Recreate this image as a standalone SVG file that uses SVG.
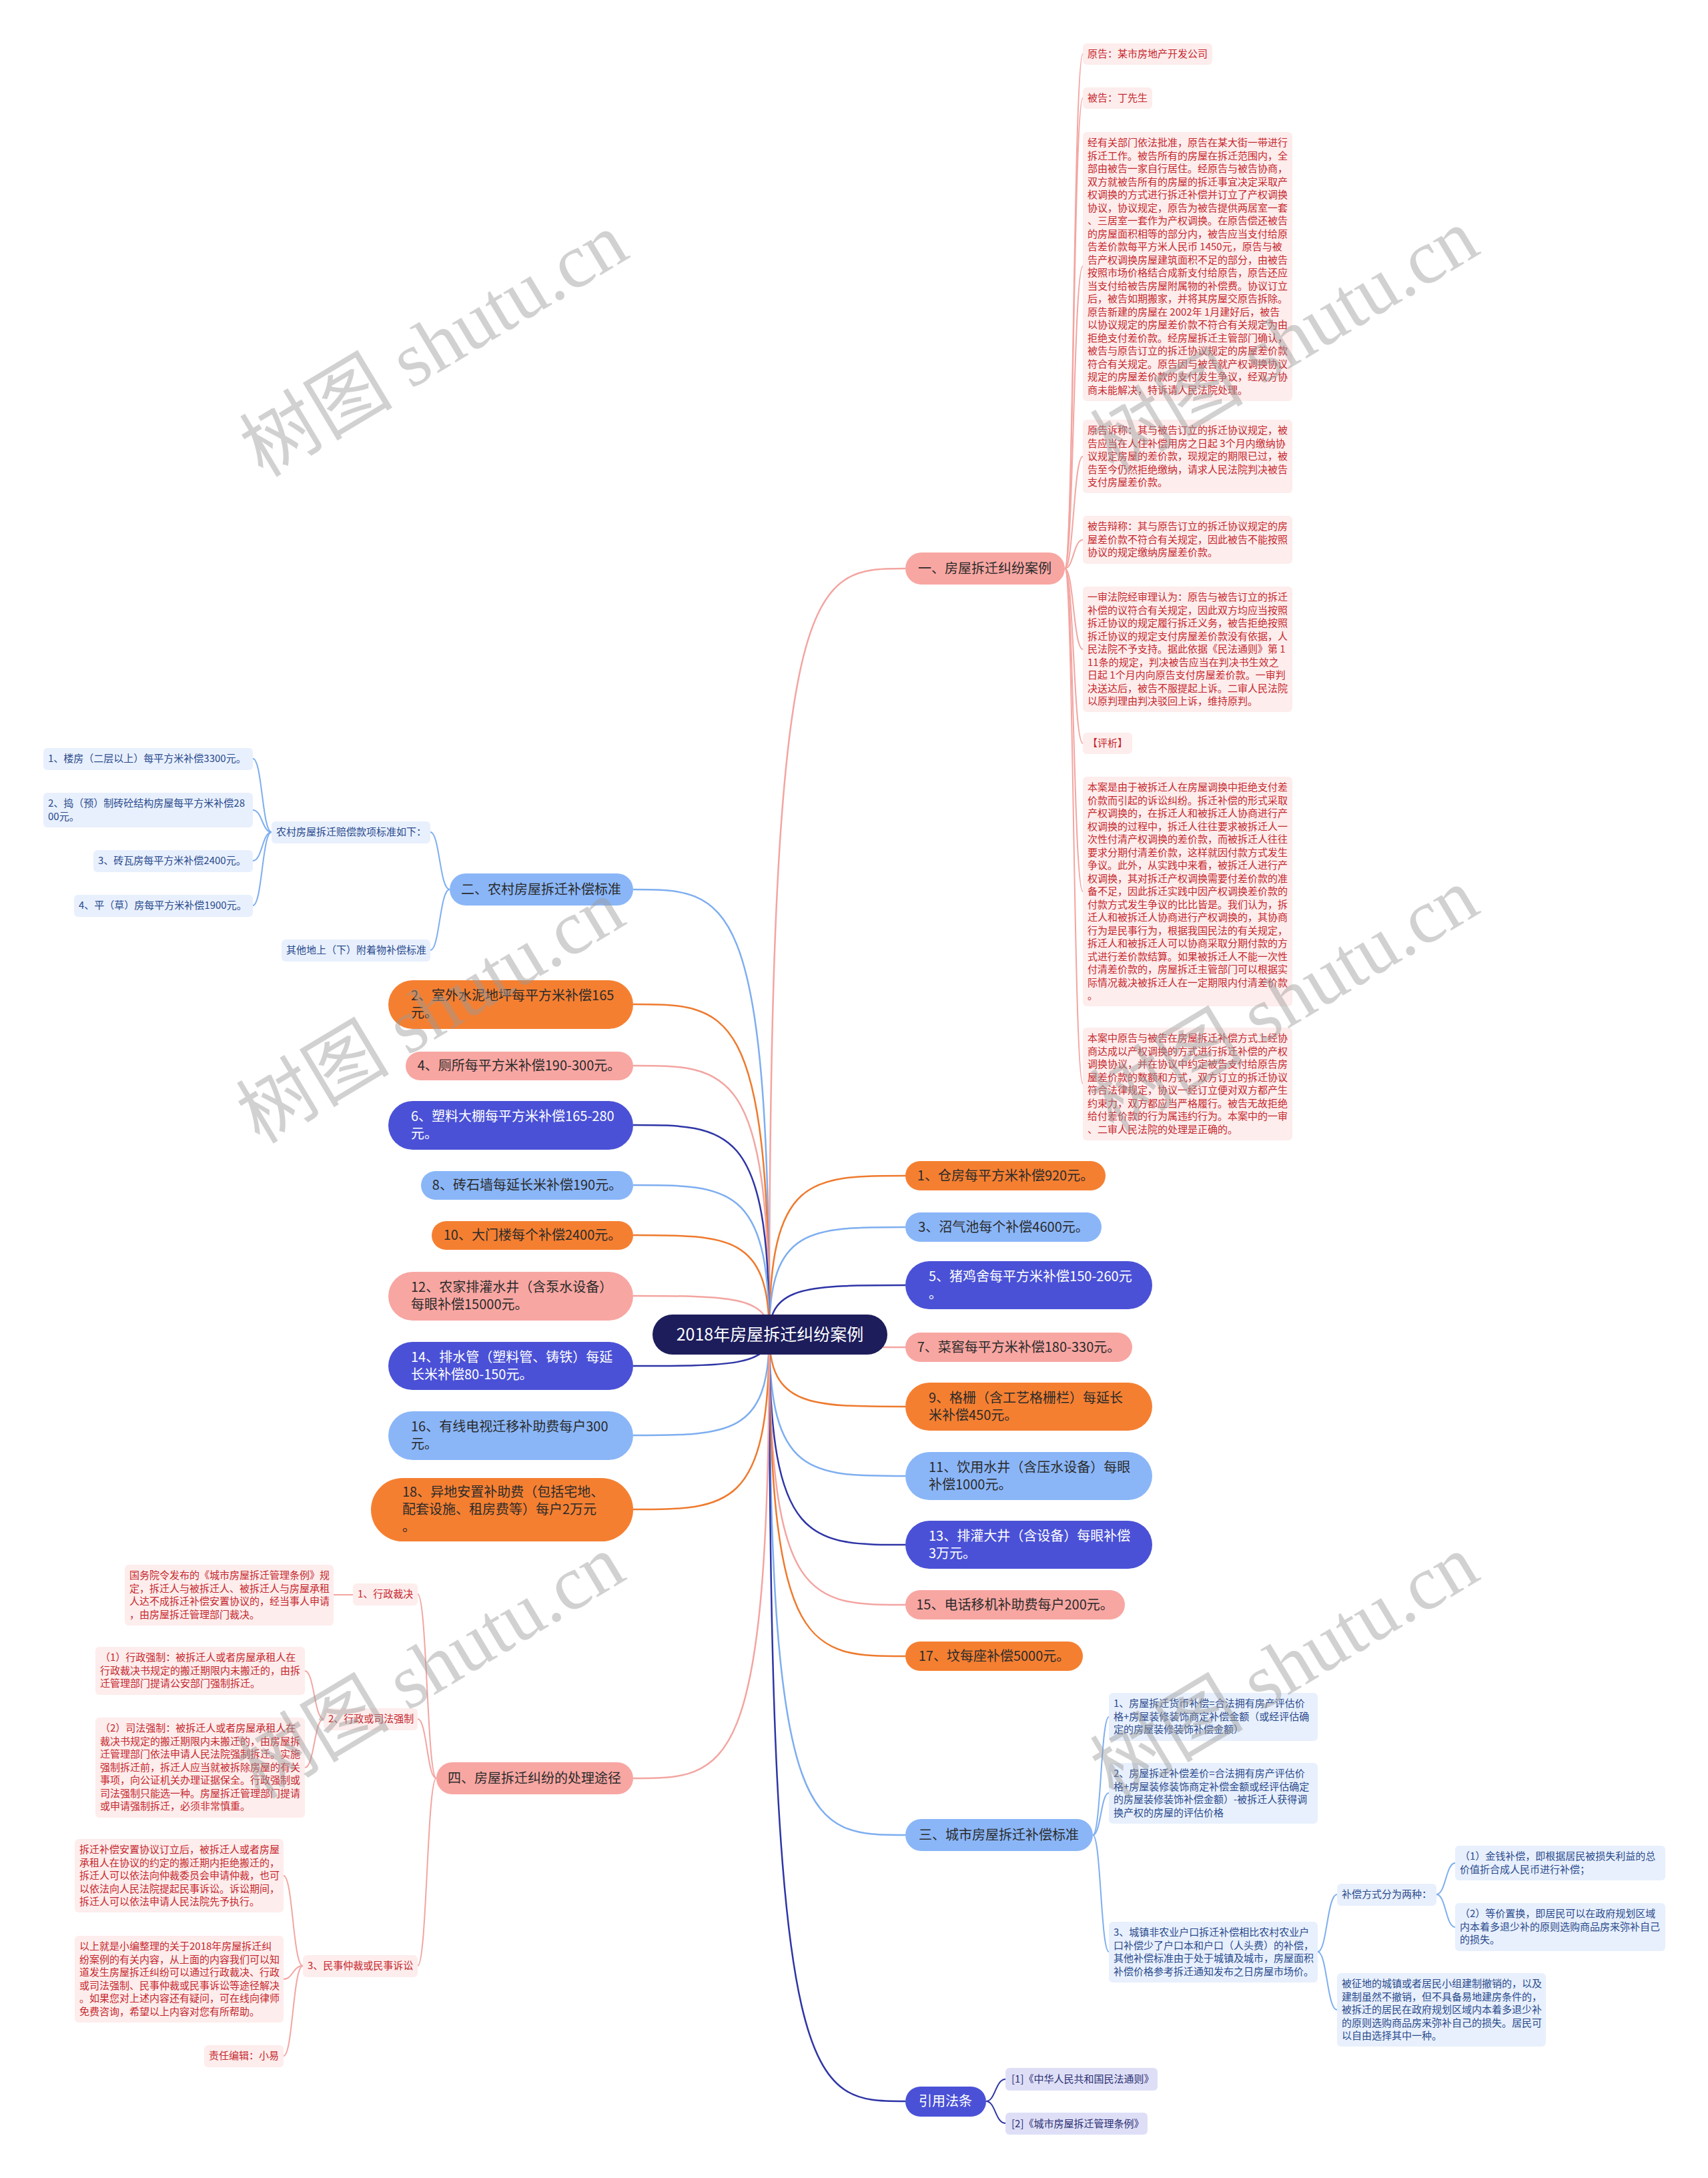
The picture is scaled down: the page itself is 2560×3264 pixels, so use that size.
<svg xmlns="http://www.w3.org/2000/svg" width="2560" height="3264" viewBox="0 0 2560 3264" font-family="'Noto Sans CJK SC','Noto Sans',sans-serif">
<style>
.c{fill:none;stroke-width:2.5}
.c2{fill:none;stroke-width:2}
.or{stroke:#EE7A2E}.pk{stroke:#F3A5A1}.lb{stroke:#7EAEF0}.db{stroke:#2E35A6}
.fo{fill:#F57F31}.fp{fill:#F8A6A2}.fl{fill:#8AB6F8}.fd{fill:#4A51D6}
.n1{font-size:20px;fill:#2b2b2b}
.wt{fill:#ffffff}
.t2{font-size:15px}
.bp{fill:#FDEDEC}.bb{fill:#E8F0FD}.bv{fill:#DEDFF7}
.red{fill:#C5282F}.blu{fill:#2A4A8C}.nav{fill:#2B2E70}
.wm{font-family:'Liberation Serif','Noto Sans CJK SC',serif;font-size:115px;fill:#9a9a9a;opacity:0.45}
</style>
<rect width="2560" height="3264" fill="#ffffff"/>
<g id="connectors">
<path class="c pk" d="M1153 2000C1153 852 1214 852 1357 852"/>
<path class="c or" d="M1153 2000C1153 1762 1214 1762 1357 1762"/>
<path class="c lb" d="M1153 2000C1153 1839 1214 1839 1357 1839"/>
<path class="c db" d="M1153 2000C1153 1926 1214 1926 1357 1926"/>
<path class="c pk" d="M1153 2000C1153 2019 1214 2019 1357 2019"/>
<path class="c or" d="M1153 2000C1153 2108 1214 2108 1357 2108"/>
<path class="c lb" d="M1153 2000C1153 2212 1214 2212 1357 2212"/>
<path class="c db" d="M1153 2000C1153 2315 1214 2315 1357 2315"/>
<path class="c pk" d="M1153 2000C1153 2405 1214 2405 1357 2405"/>
<path class="c or" d="M1153 2000C1153 2482 1214 2482 1357 2482"/>
<path class="c lb" d="M1153 2000C1153 2750 1214 2750 1357 2750"/>
<path class="c db" d="M1153 2000C1153 3149 1214 3149 1357 3149"/>
<path class="c lb" d="M1153 2000C1153 1333 1092 1333 949 1333"/>
<path class="c or" d="M1153 2000C1153 1505 1092 1505 949 1505"/>
<path class="c pk" d="M1153 2000C1153 1597 1092 1597 949 1597"/>
<path class="c db" d="M1153 2000C1153 1686 1092 1686 949 1686"/>
<path class="c lb" d="M1153 2000C1153 1776 1092 1776 949 1776"/>
<path class="c or" d="M1153 2000C1153 1851 1092 1851 949 1851"/>
<path class="c pk" d="M1153 2000C1153 1942 1092 1942 949 1942"/>
<path class="c db" d="M1153 2000C1153 2047 1092 2047 949 2047"/>
<path class="c lb" d="M1153 2000C1153 2151 1092 2151 949 2151"/>
<path class="c or" d="M1153 2000C1153 2262 1092 2262 949 2262"/>
<path class="c pk" d="M1153 2000C1153 2665 1092 2665 949 2665"/>
<!-- branch 一 -->
<path class="c2 pk" d="M1596 852C1609 852 1609 81 1623 81"/>
<path class="c2 pk" d="M1596 852C1609 852 1609 147 1623 147"/>
<path class="c2 pk" d="M1596 852C1609 852 1609 399 1623 399"/>
<path class="c2 pk" d="M1596 852C1609 852 1609 684 1623 684"/>
<path class="c2 pk" d="M1596 852C1609 852 1609 809 1623 809"/>
<path class="c2 pk" d="M1596 852C1609 852 1609 973 1623 973"/>
<path class="c2 pk" d="M1596 852C1609 852 1609 1114 1623 1114"/>
<path class="c2 pk" d="M1596 852C1609 852 1609 1336 1623 1336"/>
<path class="c2 pk" d="M1596 852C1609 852 1609 1624 1623 1624"/>
<!-- branch 二 -->
<path class="c2 lb" d="M674 1333C659 1333 659 1247 645 1247"/>
<path class="c2 lb" d="M674 1333C659 1333 659 1424 645 1424"/>
<path class="c2 lb" d="M407 1247C393 1247 393 1137 379 1137"/>
<path class="c2 lb" d="M407 1247C393 1247 393 1214 379 1214"/>
<path class="c2 lb" d="M407 1247C393 1247 393 1290 379 1290"/>
<path class="c2 lb" d="M407 1247C393 1247 393 1357 379 1357"/>
<!-- branch 四 -->
<path class="c2 pk" d="M654 2665C640 2665 640 2389 626 2389"/>
<path class="c2 pk" d="M654 2665C640 2665 640 2576 626 2576"/>
<path class="c2 pk" d="M654 2665C640 2665 640 2946 626 2946"/>
<path class="c2 pk" d="M529 2390H500"/>
<path class="c2 pk" d="M485 2576C471 2576 471 2504 457 2504"/>
<path class="c2 pk" d="M485 2576C471 2576 471 2649 457 2649"/>
<path class="c2 pk" d="M454 2946C439 2946 439 2811 425 2811"/>
<path class="c2 pk" d="M454 2946C439 2946 439 2966 425 2966"/>
<path class="c2 pk" d="M454 2946C439 2946 439 3081 425 3081"/>
<!-- branch 三 -->
<path class="c2 lb" d="M1638 2750C1650 2750 1650 2573 1662 2573"/>
<path class="c2 lb" d="M1638 2750C1650 2750 1650 2687 1662 2687"/>
<path class="c2 lb" d="M1638 2750C1650 2750 1650 2925 1662 2925"/>
<path class="c2 lb" d="M1975 2925C1989 2925 1989 2839 2004 2839"/>
<path class="c2 lb" d="M1975 2925C1989 2925 1989 3012 2004 3012"/>
<path class="c2 lb" d="M2153 2839C2167 2839 2167 2792 2181 2792"/>
<path class="c2 lb" d="M2153 2839C2167 2839 2167 2888 2181 2888"/>
<!-- 引用法条 -->
<path class="c2 db" d="M1478 3149C1492 3149 1492 3116 1507 3116"/>
<path class="c2 db" d="M1478 3149C1492 3149 1492 3182 1507 3182"/>
</g>

<g id="root">
<rect x="978" y="1970" width="352" height="60" rx="30" fill="#1D1D5C"/>
<text x="1154" y="2009" text-anchor="middle" font-size="25" class="wt">2018年房屋拆迁纠纷案例</text>
</g>

<!-- right level 1 -->
<g id="n-case">
<rect x="1357" y="828" width="239" height="48" rx="24" class="fp"/>
<text x="1476" y="859" text-anchor="middle" class="n1">一、房屋拆迁纠纷案例</text>
</g>
<g id="n-r1"><rect x="1357" y="1740" width="300" height="44" rx="22" class="fo"/>
<text x="1507" y="1769" text-anchor="middle" class="n1">1、仓房每平方米补偿920元。</text></g>
<g id="n-r3"><rect x="1357" y="1817" width="294" height="44" rx="22" class="fl"/>
<text x="1504" y="1846" text-anchor="middle" class="n1">3、沼气池每个补偿4600元。</text></g>
<g id="n-r5"><rect x="1357" y="1890" width="370" height="72" rx="36" class="fd"/>
<text x="1392" y="1920" class="n1 wt"><tspan>5、猪鸡舍每平方米补偿150-260元</tspan><tspan x="1392" dy="26">。</tspan></text></g>
<g id="n-r7"><rect x="1357" y="1997" width="340" height="44" rx="22" class="fp"/>
<text x="1527" y="2026" text-anchor="middle" class="n1">7、菜窖每平方米补偿180-330元。</text></g>
<g id="n-r9"><rect x="1357" y="2072" width="370" height="72" rx="36" class="fo"/>
<text x="1392" y="2102" class="n1"><tspan>9、格栅（含工艺格栅栏）每延长</tspan><tspan x="1392" dy="26">米补偿450元。</tspan></text></g>
<g id="n-r11"><rect x="1357" y="2176" width="370" height="72" rx="36" class="fl"/>
<text x="1392" y="2206" class="n1"><tspan>11、饮用水井（含压水设备）每眼</tspan><tspan x="1392" dy="26">补偿1000元。</tspan></text></g>
<g id="n-r13"><rect x="1357" y="2279" width="370" height="72" rx="36" class="fd"/>
<text x="1392" y="2309" class="n1 wt"><tspan>13、排灌大井（含设备）每眼补偿</tspan><tspan x="1392" dy="26">3万元。</tspan></text></g>
<g id="n-r15"><rect x="1357" y="2383" width="329" height="44" rx="22" class="fp"/>
<text x="1521" y="2412" text-anchor="middle" class="n1">15、电话移机补助费每户200元。</text></g>
<g id="n-r17"><rect x="1357" y="2460" width="266" height="44" rx="22" class="fo"/>
<text x="1490" y="2489" text-anchor="middle" class="n1">17、坟每座补偿5000元。</text></g>
<g id="n-city"><rect x="1357" y="2726" width="281" height="48" rx="24" class="fl"/>
<text x="1497" y="2757" text-anchor="middle" class="n1">三、城市房屋拆迁补偿标准</text></g>
<g id="n-law"><rect x="1357" y="3127" width="121" height="45" rx="22.5" class="fd"/>
<text x="1417" y="3156" text-anchor="middle" class="n1 wt">引用法条</text></g>

<!-- left level 1 -->
<g id="n-rural"><rect x="674" y="1309" width="275" height="48" rx="24" class="fl"/>
<text x="811" y="1340" text-anchor="middle" class="n1">二、农村房屋拆迁补偿标准</text></g>
<g id="n-l2"><rect x="582" y="1469" width="367" height="73" rx="36.5" class="fo"/>
<text x="616" y="1499" class="n1"><tspan>2、室外水泥地坪每平方米补偿165</tspan><tspan x="616" dy="26">元。</tspan></text></g>
<g id="n-l4"><rect x="608" y="1576" width="341" height="43" rx="21.5" class="fp"/>
<text x="778" y="1604" text-anchor="middle" class="n1">4、厕所每平方米补偿190-300元。</text></g>
<g id="n-l6"><rect x="582" y="1650" width="367" height="73" rx="36.5" class="fd"/>
<text x="616" y="1680" class="n1 wt"><tspan>6、塑料大棚每平方米补偿165-280</tspan><tspan x="616" dy="26">元。</tspan></text></g>
<g id="n-l8"><rect x="631" y="1755" width="318" height="43" rx="21.5" class="fl"/>
<text x="790" y="1783" text-anchor="middle" class="n1">8、砖石墙每延长米补偿190元。</text></g>
<g id="n-l10"><rect x="647" y="1830" width="302" height="43" rx="21.5" class="fo"/>
<text x="798" y="1858" text-anchor="middle" class="n1">10、大门楼每个补偿2400元。</text></g>
<g id="n-l12"><rect x="582" y="1906" width="367" height="73" rx="36.5" class="fp"/>
<text x="616" y="1936" class="n1"><tspan>12、农家排灌水井（含泵水设备）</tspan><tspan x="616" dy="26">每眼补偿15000元。</tspan></text></g>
<g id="n-l14"><rect x="582" y="2011" width="367" height="72" rx="36" class="fd"/>
<text x="616" y="2041" class="n1 wt"><tspan>14、排水管（塑料管、铸铁）每延</tspan><tspan x="616" dy="26">长米补偿80-150元。</tspan></text></g>
<g id="n-l16"><rect x="582" y="2115" width="367" height="73" rx="36.5" class="fl"/>
<text x="616" y="2145" class="n1"><tspan>16、有线电视迁移补助费每户300</tspan><tspan x="616" dy="26">元。</tspan></text></g>
<g id="n-l18"><rect x="556" y="2215" width="393" height="95" rx="47.5" class="fo"/>
<text x="603" y="2243" class="n1"><tspan>18、异地安置补助费（包括宅地、</tspan><tspan x="603" dy="26">配套设施、租房费等）每户2万元</tspan><tspan x="603" dy="26">。</tspan></text></g>
<g id="n-dispute"><rect x="654" y="2641" width="295" height="48" rx="24" class="fp"/>
<text x="801" y="2672" text-anchor="middle" class="n1">四、房屋拆迁纠纷的处理途径</text></g>

<!-- branch 一 level 2 -->
<g id="c1-1"><rect x="1623" y="65" width="194" height="32" rx="6" class="bp"/>
<text x="1630" y="86" class="t2 red">原告：某市房地产开发公司</text></g>
<g id="c1-2"><rect x="1623" y="131" width="104" height="32" rx="6" class="bp"/>
<text x="1630" y="152" class="t2 red">被告：丁先生</text></g>
<g id="c1-3"><rect x="1623" y="198" width="314" height="403" rx="6" class="bp"/>
<text x="1630" y="219" class="t2 red"><tspan>经有关部门依法批准，原告在某大街一带进行</tspan><tspan x="1630" dy="19.5">拆迁工作。被告所有的房屋在拆迁范围内，全</tspan><tspan x="1630" dy="19.5">部由被告一家自行居住。经原告与被告协商，</tspan><tspan x="1630" dy="19.5">双方就被告所有的房屋的拆迁事宜决定采取产</tspan><tspan x="1630" dy="19.5">权调换的方式进行拆迁补偿并订立了产权调换</tspan><tspan x="1630" dy="19.5">协议，协议规定，原告为被告提供两居室一套</tspan><tspan x="1630" dy="19.5">、三居室一套作为产权调换。在原告偿还被告</tspan><tspan x="1630" dy="19.5">的房屋面积相等的部分内，被告应当支付给原</tspan><tspan x="1630" dy="19.5">告差价款每平方米人民币 1450元，原告与被</tspan><tspan x="1630" dy="19.5">告产权调换房屋建筑面积不足的部分，由被告</tspan><tspan x="1630" dy="19.5">按照市场价格结合成新支付给原告，原告还应</tspan><tspan x="1630" dy="19.5">当支付给被告房屋附属物的补偿费。协议订立</tspan><tspan x="1630" dy="19.5">后，被告如期搬家，并将其房屋交原告拆除。</tspan><tspan x="1630" dy="19.5">原告新建的房屋在 2002年 1月建好后，被告</tspan><tspan x="1630" dy="19.5">以协议规定的房屋差价款不符合有关规定为由</tspan><tspan x="1630" dy="19.5">拒绝支付差价款。经房屋拆迁主管部门确认，</tspan><tspan x="1630" dy="19.5">被告与原告订立的拆迁协议规定的房屋差价款</tspan><tspan x="1630" dy="19.5">符合有关规定。原告因与被告就产权调换协议</tspan><tspan x="1630" dy="19.5">规定的房屋差价款的支付发生争议，经双方协</tspan><tspan x="1630" dy="19.5">商未能解决，特诉请人民法院处理。</tspan></text></g>
<g id="c1-4"><rect x="1623" y="629" width="314" height="110" rx="6" class="bp"/>
<text x="1630" y="650" class="t2 red"><tspan>原告诉称：其与被告订立的拆迁协议规定，被</tspan><tspan x="1630" dy="19.5">告应当在人住补偿用房之日起 3个月内缴纳协</tspan><tspan x="1630" dy="19.5">议规定房屋的差价款，现规定的期限已过，被</tspan><tspan x="1630" dy="19.5">告至今仍然拒绝缴纳，请求人民法院判决被告</tspan><tspan x="1630" dy="19.5">支付房屋差价款。</tspan></text></g>
<g id="c1-5"><rect x="1623" y="773" width="314" height="72" rx="6" class="bp"/>
<text x="1630" y="794" class="t2 red"><tspan>被告辩称：其与原告订立的拆迁协议规定的房</tspan><tspan x="1630" dy="19.5">屋差价款不符合有关规定，因此被告不能按照</tspan><tspan x="1630" dy="19.5">协议的规定缴纳房屋差价款。</tspan></text></g>
<g id="c1-6"><rect x="1623" y="879" width="314" height="188" rx="6" class="bp"/>
<text x="1630" y="900" class="t2 red"><tspan>一审法院经审理认为：原告与被告订立的拆迁</tspan><tspan x="1630" dy="19.5">补偿的议符合有关规定，因此双方均应当按照</tspan><tspan x="1630" dy="19.5">拆迁协议的规定履行拆迁义务，被告拒绝按照</tspan><tspan x="1630" dy="19.5">拆迁协议的规定支付房屋差价款没有依据，人</tspan><tspan x="1630" dy="19.5">民法院不予支持。据此依据《民法通则》第 1</tspan><tspan x="1630" dy="19.5">11条的规定，判决被告应当在判决书生效之</tspan><tspan x="1630" dy="19.5">日起 1个月内向原告支付房屋差价款。一审判</tspan><tspan x="1630" dy="19.5">决送达后，被告不服提起上诉。二审人民法院</tspan><tspan x="1630" dy="19.5">以原判理由判决驳回上诉，维持原判。</tspan></text></g>
<g id="c1-7"><rect x="1623" y="1098" width="74" height="32" rx="6" class="bp"/>
<text x="1630" y="1119" class="t2 red">【评析】</text></g>
<g id="c1-8"><rect x="1623" y="1164" width="314" height="344" rx="6" class="bp"/>
<text x="1630" y="1185" class="t2 red"><tspan>本案是由于被拆迁人在房屋调换中拒绝支付差</tspan><tspan x="1630" dy="19.5">价款而引起的诉讼纠纷。拆迁补偿的形式采取</tspan><tspan x="1630" dy="19.5">产权调换的，在拆迁人和被拆迁人协商进行产</tspan><tspan x="1630" dy="19.5">权调换的过程中，拆迁人往往要求被拆迁人一</tspan><tspan x="1630" dy="19.5">次性付清产权调换的差价款，而被拆迁人往往</tspan><tspan x="1630" dy="19.5">要求分期付清差价款，这样就因付款方式发生</tspan><tspan x="1630" dy="19.5">争议。此外，从实践中来看，被拆迁人进行产</tspan><tspan x="1630" dy="19.5">权调换，其对拆迁产权调换需要付差价款的准</tspan><tspan x="1630" dy="19.5">备不足，因此拆迁实践中因产权调换差价款的</tspan><tspan x="1630" dy="19.5">付款方式发生争议的比比皆是。我们认为，拆</tspan><tspan x="1630" dy="19.5">迁人和被拆迁人协商进行产权调换的，其协商</tspan><tspan x="1630" dy="19.5">行为是民事行为，根据我国民法的有关规定，</tspan><tspan x="1630" dy="19.5">拆迁人和被拆迁人可以协商采取分期付款的方</tspan><tspan x="1630" dy="19.5">式进行差价款结算。如果被拆迁人不能一次性</tspan><tspan x="1630" dy="19.5">付清差价款的，房屋拆迁主管部门可以根据实</tspan><tspan x="1630" dy="19.5">际情况裁决被拆迁人在一定期限内付清差价款</tspan><tspan x="1630" dy="19.5">。</tspan></text></g>
<g id="c1-9"><rect x="1623" y="1540" width="314" height="169" rx="6" class="bp"/>
<text x="1630" y="1561" class="t2 red"><tspan>本案中原告与被告在房屋拆迁补偿方式上经协</tspan><tspan x="1630" dy="19.5">商达成以产权调换的方式进行拆迁补偿的产权</tspan><tspan x="1630" dy="19.5">调换协议，并在协议中约定被告支付给原告房</tspan><tspan x="1630" dy="19.5">屋差价款的数额和方式，双方订立的拆迁协议</tspan><tspan x="1630" dy="19.5">符合法律规定，协议一经订立便对双方都产生</tspan><tspan x="1630" dy="19.5">约束力，双方都应当严格履行。被告无故拒绝</tspan><tspan x="1630" dy="19.5">给付差价款的行为属违约行为。本案中的一审</tspan><tspan x="1630" dy="19.5">、二审人民法院的处理是正确的。</tspan></text></g>

<!-- branch 二 level 2/3 -->
<g id="c2-1"><rect x="407" y="1231" width="238" height="33" rx="6" class="bb"/>
<text x="414" y="1252" class="t2 blu">农村房屋拆迁赔偿款项标准如下：</text></g>
<g id="c2-2"><rect x="422" y="1408" width="223" height="33" rx="6" class="bb"/>
<text x="429" y="1429" class="t2 blu">其他地上（下）附着物补偿标准</text></g>
<g id="c2-1-1"><rect x="65" y="1121" width="314" height="33" rx="6" class="bb"/>
<text x="72" y="1142" class="t2 blu">1、楼房（二层以上）每平方米补偿3300元。</text></g>
<g id="c2-1-2"><rect x="65" y="1188" width="314" height="52" rx="6" class="bb"/>
<text x="72" y="1209" class="t2 blu"><tspan>2、捣（预）制砖砼结构房屋每平方米补偿28</tspan><tspan x="72" dy="19.5">00元。</tspan></text></g>
<g id="c2-1-3"><rect x="140" y="1274" width="239" height="33" rx="6" class="bb"/>
<text x="147" y="1295" class="t2 blu">3、砖瓦房每平方米补偿2400元。</text></g>
<g id="c2-1-4"><rect x="111" y="1341" width="268" height="33" rx="6" class="bb"/>
<text x="118" y="1362" class="t2 blu">4、平（草）房每平方米补偿1900元。</text></g>

<!-- branch 四 -->
<g id="c4-1"><rect x="529" y="2373" width="97" height="33" rx="6" class="bp"/>
<text x="536" y="2394" class="t2 red">1、行政裁决</text></g>
<g id="c4-2"><rect x="485" y="2560" width="141" height="33" rx="6" class="bp"/>
<text x="492" y="2581" class="t2 red">2、行政或司法强制</text></g>
<g id="c4-3"><rect x="454" y="2930" width="172" height="33" rx="6" class="bp"/>
<text x="461" y="2951" class="t2 red">3、民事仲裁或民事诉讼</text></g>
<g id="c4-1-1"><rect x="187" y="2345" width="313" height="91" rx="6" class="bp"/>
<text x="194" y="2366" class="t2 red"><tspan>国务院令发布的《城市房屋拆迁管理条例》规</tspan><tspan x="194" dy="19.5">定，拆迁人与被拆迁人、被拆迁人与房屋承租</tspan><tspan x="194" dy="19.5">人达不成拆迁补偿安置协议的，经当事人申请</tspan><tspan x="194" dy="19.5">，由房屋拆迁管理部门裁决。</tspan></text></g>
<g id="c4-2-1"><rect x="143" y="2468" width="314" height="72" rx="6" class="bp"/>
<text x="150" y="2489" class="t2 red"><tspan>（1）行政强制：被拆迁人或者房屋承租人在</tspan><tspan x="150" dy="19.5">行政裁决书规定的搬迁期限内未搬迁的，由拆</tspan><tspan x="150" dy="19.5">迁管理部门提请公安部门强制拆迁。</tspan></text></g>
<g id="c4-2-2"><rect x="143" y="2574" width="314" height="150" rx="6" class="bp"/>
<text x="150" y="2595" class="t2 red"><tspan>（2）司法强制：被拆迁人或者房屋承租人在</tspan><tspan x="150" dy="19.5">裁决书规定的搬迁期限内未搬迁的，由房屋拆</tspan><tspan x="150" dy="19.5">迁管理部门依法申请人民法院强制拆迁。实施</tspan><tspan x="150" dy="19.5">强制拆迁前，拆迁人应当就被拆除房屋的有关</tspan><tspan x="150" dy="19.5">事项，向公证机关办理证据保全。行政强制或</tspan><tspan x="150" dy="19.5">司法强制只能选一种。房屋拆迁管理部门提请</tspan><tspan x="150" dy="19.5">或申请强制拆迁，必须非常慎重。</tspan></text></g>
<g id="c4-3-1"><rect x="112" y="2756" width="313" height="110" rx="6" class="bp"/>
<text x="119" y="2777" class="t2 red"><tspan>拆迁补偿安置协议订立后，被拆迁人或者房屋</tspan><tspan x="119" dy="19.5">承租人在协议的约定的搬迁期内拒绝搬迁的，</tspan><tspan x="119" dy="19.5">拆迁人可以依法向仲裁委员会申请仲裁，也可</tspan><tspan x="119" dy="19.5">以依法向人民法院提起民事诉讼。诉讼期间，</tspan><tspan x="119" dy="19.5">拆迁人可以依法申请人民法院先予执行。</tspan></text></g>
<g id="c4-3-2"><rect x="112" y="2901" width="313" height="130" rx="6" class="bp"/>
<text x="119" y="2922" class="t2 red"><tspan>以上就是小编整理的关于2018年房屋拆迁纠</tspan><tspan x="119" dy="19.5">纷案例的有关内容，从上面的内容我们可以知</tspan><tspan x="119" dy="19.5">道发生房屋拆迁纠纷可以通过行政裁决、行政</tspan><tspan x="119" dy="19.5">或司法强制、民事仲裁或民事诉讼等途径解决</tspan><tspan x="119" dy="19.5">。如果您对上述内容还有疑问，可在线向律师</tspan><tspan x="119" dy="19.5">免费咨询，希望以上内容对您有所帮助。</tspan></text></g>
<g id="c4-3-3"><rect x="306" y="3065" width="119" height="33" rx="6" class="bp"/>
<text x="313" y="3086" class="t2 red">责任编辑：小易</text></g>

<!-- branch 三 -->
<g id="c3-1"><rect x="1662" y="2537" width="313" height="72" rx="6" class="bb"/>
<text x="1669" y="2558" class="t2 blu"><tspan>1、房屋拆迁货币补偿=合法拥有房产评估价</tspan><tspan x="1669" dy="19.5">格+房屋装修装饰商定补偿金额（或经评估确</tspan><tspan x="1669" dy="19.5">定的房屋装修装饰补偿金额）</tspan></text></g>
<g id="c3-2"><rect x="1662" y="2642" width="313" height="91" rx="6" class="bb"/>
<text x="1669" y="2663" class="t2 blu"><tspan>2、房屋拆迁补偿差价=合法拥有房产评估价</tspan><tspan x="1669" dy="19.5">格+房屋装修装饰商定补偿金额或经评估确定</tspan><tspan x="1669" dy="19.5">的房屋装修装饰补偿金额）-被拆迁人获得调</tspan><tspan x="1669" dy="19.5">换产权的房屋的评估价格</tspan></text></g>
<g id="c3-3"><rect x="1662" y="2880" width="313" height="91" rx="6" class="bb"/>
<text x="1669" y="2901" class="t2 blu"><tspan>3、城镇非农业户口拆迁补偿相比农村农业户</tspan><tspan x="1669" dy="19.5">口补偿少了户口本和户口（人头费）的补偿，</tspan><tspan x="1669" dy="19.5">其他补偿标准由于处于城镇及城市，房屋面积</tspan><tspan x="1669" dy="19.5">补偿价格参考拆迁通知发布之日房屋市场价。</tspan></text></g>
<g id="c3-3-1"><rect x="2004" y="2823" width="149" height="33" rx="6" class="bb"/>
<text x="2011" y="2844" class="t2 blu">补偿方式分为两种：</text></g>
<g id="c3-3-2"><rect x="2004" y="2957" width="313" height="110" rx="6" class="bb"/>
<text x="2011" y="2978" class="t2 blu"><tspan>被征地的城镇或者居民小组建制撤销的，以及</tspan><tspan x="2011" dy="19.5">建制虽然不撤销，但不具备易地建房条件的，</tspan><tspan x="2011" dy="19.5">被拆迁的居民在政府规划区域内本着多退少补</tspan><tspan x="2011" dy="19.5">的原则选购商品房来弥补自己的损失。居民可</tspan><tspan x="2011" dy="19.5">以自由选择其中一种。</tspan></text></g>
<g id="c3-3-1-1"><rect x="2181" y="2766" width="315" height="52" rx="6" class="bb"/>
<text x="2188" y="2787" class="t2 blu"><tspan>（1）金钱补偿，即根据居民被损失利益的总</tspan><tspan x="2188" dy="19.5">价值折合成人民币进行补偿；</tspan></text></g>
<g id="c3-3-1-2"><rect x="2181" y="2852" width="315" height="72" rx="6" class="bb"/>
<text x="2188" y="2873" class="t2 blu"><tspan>（2）等价置换，即居民可以在政府规划区域</tspan><tspan x="2188" dy="19.5">内本着多退少补的原则选购商品房来弥补自己</tspan><tspan x="2188" dy="19.5">的损失。</tspan></text></g>

<!-- 引用法条 -->
<g id="law-1"><rect x="1507" y="3099" width="228" height="34" rx="6" class="bv"/>
<text x="1516" y="3121" class="t2 nav">[1]《中华人民共和国民法通则》</text></g>
<g id="law-2"><rect x="1507" y="3166" width="213" height="33" rx="6" class="bv"/>
<text x="1516" y="3188" class="t2 nav">[2]《城市房屋拆迁管理条例》</text></g>

<g id="watermarks">
<text class="wm" x="650" y="556" text-anchor="middle" transform="rotate(-31 650 516)">树图 shutu.cn</text>
<text class="wm" x="1925" y="550" text-anchor="middle" transform="rotate(-31 1925 510)">树图 shutu.cn</text>
<text class="wm" x="645" y="1555" text-anchor="middle" transform="rotate(-31 645 1515)">树图 shutu.cn</text>
<text class="wm" x="1925" y="1538" text-anchor="middle" transform="rotate(-31 1925 1498)">树图 shutu.cn</text>
<text class="wm" x="645" y="2537" text-anchor="middle" transform="rotate(-31 645 2497)">树图 shutu.cn</text>
<text class="wm" x="1925" y="2537" text-anchor="middle" transform="rotate(-31 1925 2497)">树图 shutu.cn</text>
</g>
</svg>
